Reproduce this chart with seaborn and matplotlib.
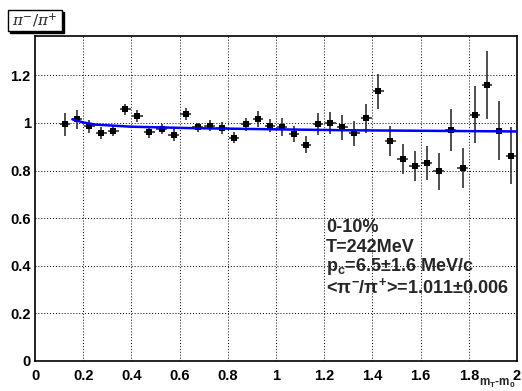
import numpy as np
import pandas as pd
import matplotlib
matplotlib.use("Agg")
import matplotlib.pyplot as plt
from matplotlib.ticker import MultipleLocator
from matplotlib.patches import Rectangle
import seaborn as sns

# ---- data ----
mt = [0.125, 0.175, 0.225, 0.275, 0.325, 0.375, 0.425, 0.475, 0.525, 0.575,
      0.625, 0.675, 0.725, 0.775, 0.825, 0.875, 0.925, 0.975, 1.025, 1.075,
      1.125, 1.175, 1.225, 1.275, 1.325, 1.375, 1.425, 1.475, 1.525, 1.575,
      1.625, 1.675, 1.725, 1.775, 1.825, 1.875, 1.925, 1.975]
ratio = [0.994, 1.015, 0.986, 0.956, 0.964, 1.057, 1.029, 0.961, 0.973, 0.949,
         1.036, 0.982, 0.989, 0.977, 0.937, 0.994, 1.015, 0.989, 0.982, 0.954,
         0.909, 0.997, 0.999, 0.982, 0.956, 1.019, 1.133, 0.925, 0.848, 0.819,
         0.832, 0.796, 0.971, 0.811, 1.035, 1.159, 0.968, 0.862]
ratio_err = [0.048, 0.039, 0.028, 0.025, 0.021, 0.022, 0.024, 0.023, 0.021, 0.025,
             0.025, 0.019, 0.025, 0.025, 0.023, 0.028, 0.034, 0.028, 0.039, 0.035,
             0.037, 0.046, 0.046, 0.053, 0.053, 0.062, 0.074, 0.063, 0.063, 0.065,
             0.070, 0.076, 0.089, 0.083, 0.119, 0.141, 0.123, 0.119]
mt_err = 0.022

fit_x = [0.155, 0.2, 0.25, 0.4, 0.65, 1.0, 1.3, 1.6, 2.0]
fit_y = [1.015, 1.002, 0.993, 0.984, 0.978, 0.973, 0.969, 0.967, 0.964]

x_ticks = [0, 0.2, 0.4, 0.6, 0.8, 1, 1.2, 1.4, 1.6, 1.8, 2]
x_ticklabels = ["0", "0.2", "0.4", "0.6", "0.8", "1", "1.2", "1.4", "1.6", "1.8", "2"]
y_ticks = [0, 0.2, 0.4, 0.6, 0.8, 1, 1.2]
y_ticklabels = ["0", "0.2", "0.4", "0.6", "0.8", "1", "1.2"]

info_lines = ["0-10%", "T=242MeV",
              r"p$_{\mathbf{c}}$=6.5$\pm$1.6 MeV/c",
              r"<$\pi^{\mathbf{-}}$/$\pi^{\mathbf{+}}$>=1.011$\pm$0.006"]

df = pd.DataFrame({"mt": mt, "ratio": ratio, "err": ratio_err})
fit_df = pd.DataFrame({"x": fit_x, "y": fit_y})

sns.set_style("white")
plt.rcParams["font.family"] = ["Liberation Sans", "DejaVu Sans"]
plt.rcParams["mathtext.fontset"] = "custom"
plt.rcParams["mathtext.rm"] = "Liberation Sans:bold"
plt.rcParams["mathtext.it"] = "Liberation Sans:bold"
plt.rcParams["mathtext.bf"] = "Liberation Sans:bold"

fig = plt.figure(figsize=(5.22, 3.91), dpi=100)
ax = fig.add_axes([35 / 522, 1 - 361 / 391, (517 - 35) / 522, (361 - 36) / 391])

# grid
for xv in x_ticks[1:-1]:
    ax.axvline(xv, color="black", lw=0.7, ls=(0, (1, 2)), zorder=0)
for yv in y_ticks[1:]:
    ax.axhline(yv, color="black", lw=0.7, ls=(0, (1, 2)), zorder=0)

# error bars
ax.errorbar(df["mt"], df["ratio"], yerr=df["err"], xerr=mt_err, fmt="none",
            ecolor="#303030", elinewidth=1.2, capsize=0, zorder=2)
sns.scatterplot(data=df, x="mt", y="ratio", marker="s", s=17, color="black",
                edgecolor="black", linewidth=0, ax=ax, zorder=3)
sns.lineplot(data=fit_df, x="x", y="y", color="#0000ff", lw=1.8, ax=ax,
             zorder=4, sort=True)

ax.set_xlim(0, 2)
ax.set_ylim(0, 1.365)
ax.set_xticks(x_ticks)
ax.set_xticklabels(x_ticklabels)
ax.set_yticks(y_ticks)
ax.set_yticklabels(y_ticklabels)
ax.xaxis.set_minor_locator(MultipleLocator(0.05))
ax.yaxis.set_minor_locator(MultipleLocator(0.05))
ax.tick_params(axis="both", which="major", direction="in", length=9, width=1,
               labelsize=10.5, colors="black")
ax.tick_params(axis="both", which="minor", direction="in", length=5, width=1)
ax.tick_params(axis="x", pad=6)
ax.tick_params(axis="y", pad=3)
for lab in ax.get_xticklabels() + ax.get_yticklabels():
    lab.set_fontweight("bold")
ax.set_xlabel("")
ax.set_ylabel("")
for sp in ax.spines.values():
    sp.set_visible(True)
    sp.set_color("black")
    sp.set_linewidth(1.2)

# info text
ys = [228, 248, 267, 287]
for t, yp in zip(info_lines, ys):
    ax.text((326 - 35) / 482 * 2, (361 - yp) / 237.5, t, fontsize=13,
            fontweight="bold", ha="left", va="center", zorder=5)

# x label (sits under the last tick label, as in the reference)
fig.text(516 / 522, 0.5 / 391, r"m$_{\mathbf{T}}$-m$_{\mathbf{0}}$",
         fontsize=8.5, fontweight="bold", ha="right", va="bottom")

# title box with shadow
shadow = Rectangle((10 / 522, 1 - 33 / 391), 54 / 522, 21 / 391,
                   transform=fig.transFigure, facecolor="black",
                   edgecolor="black", zorder=1)
fig.patches.append(shadow)
box = Rectangle((8 / 522, 1 - 31 / 391), 54 / 522, 21 / 391,
                transform=fig.transFigure, facecolor="white",
                edgecolor="black", lw=1, zorder=2)
fig.patches.append(box)
fig.text(35 / 522, 1 - 20.5 / 391, r"$\pi^{-}/\pi^{+}$", fontsize=11,
         ha="center", va="center", zorder=3,
         math_fontfamily="dejavuserif")

fig.savefig("out.png", dpi=100)
